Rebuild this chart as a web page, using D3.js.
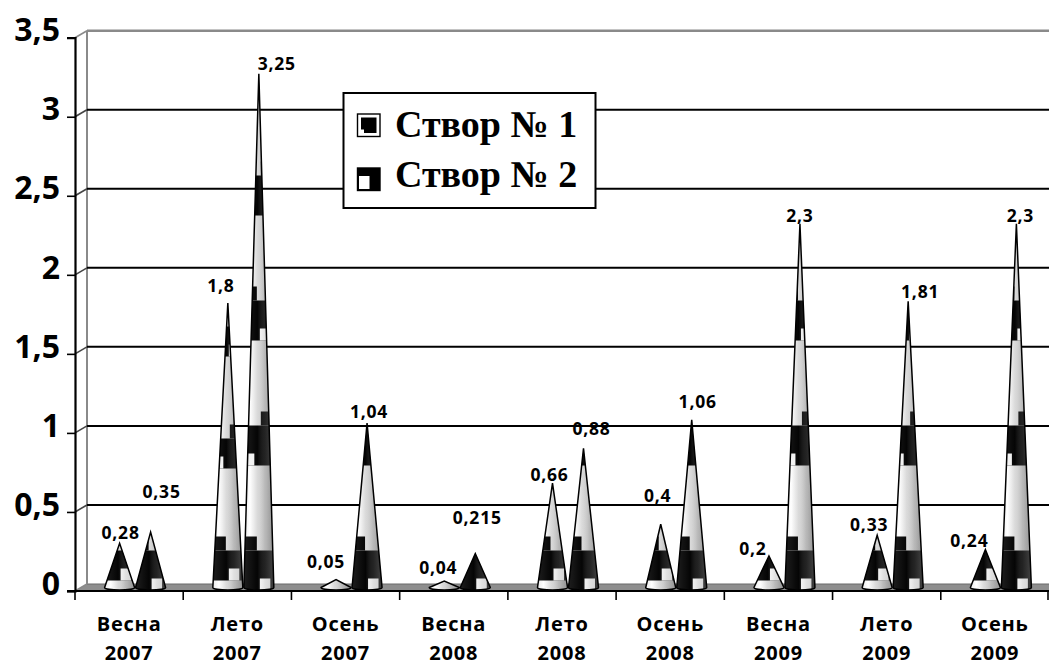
<!DOCTYPE html>
<html>
<head>
<meta charset="utf-8">
<script src="https://cdn.jsdelivr.net/npm/d3@7"></script>
<style>
  html, body { margin: 0; padding: 0; background: #fff; }
  svg { display: block; }
</style>
</head>
<body>
<svg id="chart" width="1049" height="666"></svg>
<script>
// Seasons and years form the two-line category labels
const seasons = ["Весна", "Лето", "Осень", "Весна", "Лето", "Осень", "Весна", "Лето", "Осень"];
const years   = ["2007", "2007", "2007", "2008", "2008", "2008", "2009", "2009", "2009"];
const seriesNames = ["Створ № 1", "Створ № 2"];
const stvor1 = [0.28, 1.8, 0.05, 0.04, 0.66, 0.4, 0.2, 0.33, 0.24];
const stvor2 = [0.35, 3.25, 1.04, 0.215, 0.88, 1.06, 2.3, 1.81, 2.3];
const yTicks = [0, 0.5, 1, 1.5, 2, 2.5, 3, 3.5];

// Small nudges (px) that place each value label near its cone tip
const labelNudge1 = [[1, -11], [-7, -18], [-10, -19], [-6, -14], [-3, -9], [-3, -29], [-16, -8], [-8, -11], [-16, -10]];
const labelNudge2 = [[11, -41], [18, -11], [2, -12], [2, -37], [8, -20], [6, -19], [0, -9], [12, -10], [4, -9]];

const categories = seasons.map((s, i) => s + " " + years[i]);
const svg = d3.select("#chart");
const fmt = v => String(v).replace(".", ",");

// Layout
const left = 75, right = 1049;
const depthX = 12, depthY = -7;           // offset of the back wall
const yFront = d3.scaleLinear().domain([0, 3.5]).range([591, 37.7]);
const yBack = v => yFront(v) + depthY;
const yMid = v => yFront(v) + depthY / 2;  // plane where the cones stand

const x = d3.scaleBand().domain(categories).range([left, right]).padding(0);
const xSub = d3.scaleBand().domain(seriesNames).range([-31, 31]).padding(0);
const coneHalf = 15;

const defs = svg.append("defs");

// Horizontal shading of the cone surface
const gBase = defs.append("linearGradient").attr("id", "coneBase").attr("x1", 0).attr("x2", 1).attr("y1", 0).attr("y2", 0);
[[0, "#e8e8e8"], [0.2, "#ffffff"], [0.45, "#dadada"], [0.75, "#bcbcbc"], [1, "#909090"]]
  .forEach(([o, c]) => gBase.append("stop").attr("offset", o).attr("stop-color", c));
const gSheen = defs.append("linearGradient").attr("id", "coneSheen").attr("x1", 0).attr("x2", 1).attr("y1", 0).attr("y2", 0);
[[0, "#ffffff", 0.1], [0.45, "#ffffff", 0], [0.7, "#9a9a9a", 0.2], [1, "#9a9a9a", 0.42]]
  .forEach(([o, c, a]) => gSheen.append("stop").attr("offset", o).attr("stop-color", c).attr("stop-opacity", a));

// Floor
const floorY0 = yFront(0), floorY1 = yBack(0);
svg.append("path")
  .attr("d", `M${left},${floorY0} L${left + depthX},${floorY1} L${right},${floorY1} L${right},${floorY0} Z`)
  .attr("fill", "#8e8e8e");
svg.append("line")
  .attr("x1", left + depthX).attr("x2", right).attr("y1", floorY1).attr("y2", floorY1)
  .attr("stroke", "#6a6a6a").attr("stroke-width", 1.2);

// Back wall left edge
svg.append("line")
  .attr("x1", left + depthX).attr("x2", left + depthX)
  .attr("y1", yBack(3.5)).attr("y2", yBack(0))
  .attr("stroke", "#8a8a8a").attr("stroke-width", 2);

// Gridlines on the back wall and the side wall
const grid = svg.append("g");
yTicks.forEach(v => {
  const top = v === 3.5;
  grid.append("line")
    .attr("x1", left).attr("y1", yFront(v))
    .attr("x2", left + depthX).attr("y2", yBack(v))
    .attr("stroke", top || v === 0 ? "#8a8a8a" : "#444").attr("stroke-width", 1.6);
  if (v > 0) {
    grid.append("line")
      .attr("x1", left + depthX).attr("x2", right)
      .attr("y1", yBack(v)).attr("y2", yBack(v))
      .attr("stroke", top ? "#8a8a8a" : "#000").attr("stroke-width", top ? 2.4 : 2);
  }
});

// Cones
const allSeries = [stvor1, stvor2];
const nudges = [labelNudge1, labelNudge2];
const coneLayer = svg.append("g");
const baseY = yMid(0);
const bandSpec = [
  { period: 112, band: 30, start: 10 },
  { period: 125, band: 40, start: 0 }
];

allSeries.forEach((values, s) => {
  const { period, band, start } = bandSpec[s];
  values.forEach((v, i) => {
    const cx = x(categories[i]) + x.bandwidth() / 2 + depthX / 2 + xSub(seriesNames[s]) + xSub.bandwidth() / 2;
    const tipY = yMid(v);
    const h = baseY - tipY;
    const d = `M${cx - coneHalf},${baseY} L${cx},${tipY} L${cx + coneHalf},${baseY} A${coneHalf},2.6 0 0 1 ${cx - coneHalf},${baseY} Z`;
    const id = `clip-${s}-${i}`;
    defs.append("clipPath").attr("id", id).append("path").attr("d", d);
    const g = coneLayer.append("g").attr("clip-path", `url(#${id})`);
    g.append("rect")
      .attr("x", cx - coneHalf).attr("y", tipY - 1)
      .attr("width", coneHalf * 2).attr("height", h + 4)
      .attr("fill", "url(#coneBase)");
    // checkered dark bands along the height
    for (let k = 0; start + k * period < h - 6; k++) {
      const b0 = baseY + 3 - start - k * period;
      g.append("rect")
        .attr("x", cx - coneHalf).attr("y", b0 - band)
        .attr("width", coneHalf * 2).attr("height", band)
        .attr("fill", "#050505");
      g.append("rect")
        .attr("x", (k % 2 === 0) ? cx - coneHalf : cx + 2).attr("y", b0 - band - 14)
        .attr("width", coneHalf - 2).attr("height", 14)
        .attr("fill", "#050505");
      g.append("rect")
        .attr("x", (k % 2 === 0) ? cx + 1 : cx - coneHalf).attr("y", b0 - 12)
        .attr("width", coneHalf * 0.7).attr("height", 12)
        .attr("fill", "#f2f2f2");
    }
    g.append("rect")
      .attr("x", cx - coneHalf).attr("y", tipY - 1)
      .attr("width", coneHalf * 2).attr("height", h + 4)
      .attr("fill", "url(#coneSheen)");
    coneLayer.append("path").attr("d", d)
      .attr("fill", "none").attr("stroke", "#000").attr("stroke-width", 1.5)
      .attr("stroke-linejoin", "miter");

    const [ndx, ndy] = nudges[s][i];
    svg.append("text")
      .attr("x", cx + ndx).attr("y", tipY + ndy)
      .attr("text-anchor", "middle").attr("dominant-baseline", "central")
      .attr("font-family", "'Open Sans', sans-serif").attr("font-weight", 700)
      .attr("font-size", 17.5).attr("letter-spacing", 0.8)
      .attr("fill", "#000")
      .text(fmt(v));
  });
});

// Front value axis
const yAxis = d3.axisLeft(yFront).tickValues(yTicks).tickSize(8).tickPadding(7).tickFormat(fmt);
const ya = svg.append("g").attr("transform", `translate(${left},0)`).call(yAxis);
ya.select(".domain").attr("stroke", "#000").attr("stroke-width", 2.2);
ya.selectAll(".tick line").attr("stroke", "#000").attr("stroke-width", 1.6);
ya.selectAll(".tick text")
  .attr("font-family", "'Open Sans', sans-serif").attr("font-weight", 700)
  .attr("font-size", 32).attr("fill", "#000").attr("dy", "0.1em");

// Category axis along the front edge
const xa = svg.append("g");
xa.append("line")
  .attr("x1", left - 8).attr("x2", right).attr("y1", yFront(0)).attr("y2", yFront(0))
  .attr("stroke", "#000").attr("stroke-width", 2.2);
categories.forEach((c, i) => {
  xa.append("line")
    .attr("x1", x(c)).attr("x2", x(c))
    .attr("y1", yFront(0)).attr("y2", yFront(0) + 9)
    .attr("stroke", "#000").attr("stroke-width", 1.6);
  const cxl = x(c) + x.bandwidth() / 2;
  const t = xa.append("text")
    .attr("x", cxl).attr("text-anchor", "middle")
    .attr("font-family", "'Open Sans', sans-serif").attr("font-weight", 700)
    .attr("font-size", 20).attr("letter-spacing", 0.8).attr("fill", "#000");
  t.append("tspan").attr("x", cxl).attr("y", 631).text(seasons[i]);
  t.append("tspan").attr("x", cxl).attr("y", 660).text(years[i]);
});
xa.append("line")
  .attr("x1", right - 1).attr("x2", right - 1)
  .attr("y1", yFront(0)).attr("y2", yFront(0) + 9)
  .attr("stroke", "#000").attr("stroke-width", 1.6);

// Legend
const lg = svg.append("g");
lg.append("rect").attr("x", 343.5).attr("y", 93).attr("width", 252).attr("height", 115)
  .attr("fill", "#fff").attr("stroke", "#000").attr("stroke-width", 2);
const sym = 22.5, symX = 357.5;
const rowY = [114, 168];
// symbol 1: framed dark square with a light corner
lg.append("rect").attr("x", symX).attr("y", rowY[0]).attr("width", sym).attr("height", sym)
  .attr("fill", "#fff").attr("stroke", "#000").attr("stroke-width", 1.4);
lg.append("rect").attr("x", symX + 3.5).attr("y", rowY[0] + 3.5).attr("width", sym - 7).attr("height", sym - 7).attr("fill", "#000");
lg.append("rect").attr("x", symX + 3.5).attr("y", rowY[0] + sym - 7).attr("width", 3).attr("height", 3.5).attr("fill", "#fff");
// symbol 2: dark top and right with light lower-left block
lg.append("rect").attr("x", symX).attr("y", rowY[1]).attr("width", sym).attr("height", sym)
  .attr("fill", "#000").attr("stroke", "#000").attr("stroke-width", 1.4);
lg.append("rect").attr("x", symX + 1.5).attr("y", rowY[1] + 8).attr("width", 10.5).attr("height", sym - 9.5).attr("fill", "#fff");
seriesNames.forEach((n, k) => {
  lg.append("text").attr("x", 395).attr("y", [136.5, 187][k])
    .attr("font-family", "'Liberation Serif', 'Times New Roman', serif").attr("font-weight", 700)
    .attr("font-size", 38).attr("fill", "#000").text(n);
});
</script>
</body>
</html>
